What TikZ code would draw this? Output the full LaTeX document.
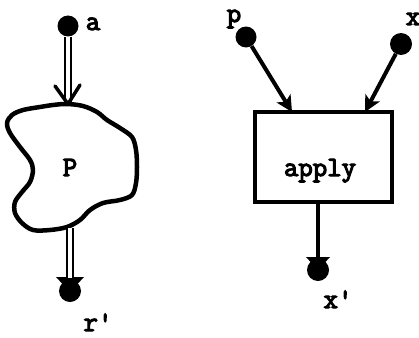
\documentclass[tikz,border=0pt]{standalone}
\usepackage{fontspec}
\newfontfamily\typewriter{Latin Modern Mono}[FakeBold=4]
\usetikzlibrary{arrows.meta,calc}
\begin{document}
\begin{tikzpicture}[x=1pt,y=-1pt,
  dot/.style={circle,fill=black,inner sep=0pt,minimum size=21pt},
  lbl/.style={font=\fontsize{28}{28}\selectfont\typewriter,inner sep=0pt,anchor=base},
  pipe/.style={draw=black,line width=2pt,double=white,double distance=4pt},
  wire/.style={draw=black,line width=4pt},
  tip/.style={-{Stealth[length=16pt,width=16pt,inset=4pt]}},
  procbox/.style={draw=black,line width=4pt,minimum width=137pt,minimum height=90pt,inner sep=0pt}]
\useasboundingbox (0,0) rectangle (419,337);

% ---- left: process P with input a and result r'
\node[dot] (a) at (68,26) {};
\node[lbl] (alab) at (93,30) {a};
\coordinate (ptop) at (68,104);
\coordinate (pbot) at (70,228);
\draw[line width=4.5pt,line join=round] plot[smooth cycle,tension=0.55] coordinates {
  (67,104) (83,106) (97,112) (107,120) (120,128) (132,137) (136,150)
  (137,167) (136,183) (132,195) (120,200) (103,203) (90,210) (80,220)
  (67,227) (50,230) (33,230) (22,223) (15,213) (15,202) (22,192)
  (30,182) (33,170) (30,160) (20,147) (10,133) (7,123) (12,115)
  (23,110) (40,107) (53,105)};
\node[lbl] (plab) at (70,176) {P};
\draw[pipe] (a) -- (ptop);
\draw[line width=3.5pt,line cap=round,line join=round]
  ($(ptop)+(-13,-18)$) -- (ptop) -- ($(ptop)+(12,-19)$);
\node[dot,minimum size=22pt] (r) at (70,291) {};
\fill (56,277) -- (84,277) -- (70,292) -- cycle;
\draw[pipe] (pbot) -- (70,278);
\node[lbl] (rlab) at (98,331) {r'};

% ---- right: apply with inputs p, x and result x'
\node[dot] (p) at (246,37) {};
\node[lbl] (plbl) at (234,22) {p};
\node[dot,minimum size=22pt] (x) at (401,44) {};
\node[lbl] (xlbl) at (413,25) {x};
\node[procbox] (box) at (323.5,157) {};
\node[lbl] (applylab) at (320,176) {apply};
\coordinate (in1) at (292,112);
\coordinate (in2) at (365,112);
\coordinate (out) at (318,202);
\draw[wire,tip] (p) -- (in1);
\draw[wire,tip] (x) -- (in2);
\node[dot,minimum size=22pt] (xp) at (318,270) {};
\fill (306,257) -- (330,257) -- (318,270) -- cycle;
\draw[wire] (out) -- (318,258);
\node[lbl] (xplab) at (338,308) {x'};
\end{tikzpicture}
\end{document}
